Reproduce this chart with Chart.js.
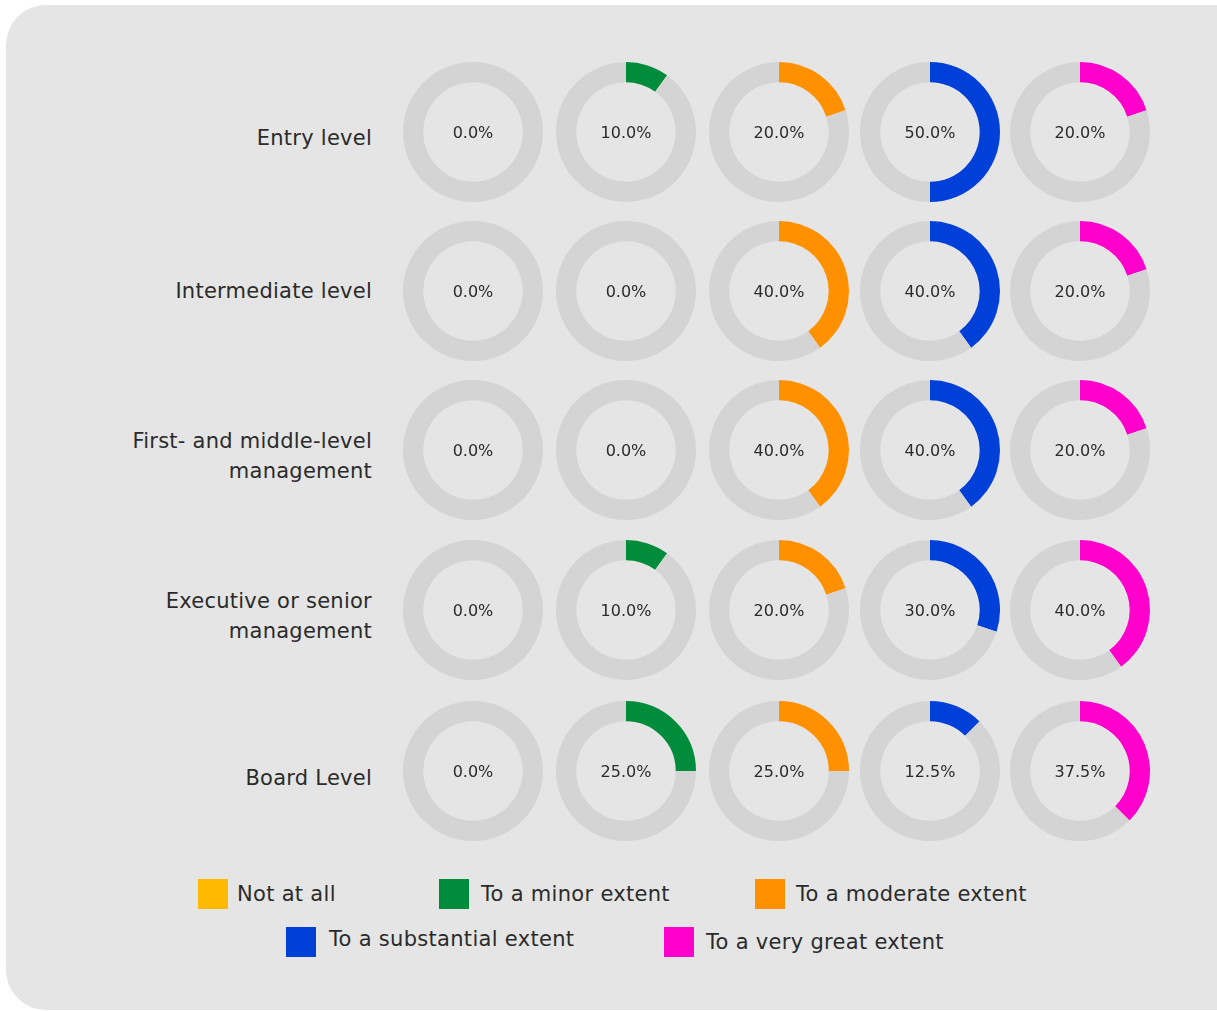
<!DOCTYPE html>
<html>
<head>
<meta charset="utf-8">
<script src="https://cdn.jsdelivr.net/npm/chart.js@4.4.1/dist/chart.umd.min.js"></script>
<style>
  body { margin: 0; background: #ffffff; overflow: hidden; font-family: "DejaVu Sans", Verdana, sans-serif; }
  #panel {
    position: absolute; left: 6px; top: 5px; width: 1260px; height: 1005px;
    background: #e5e5e5; border-radius: 40px;
  }
  .rowLabel {
    position: absolute; width: 360px; text-align: right;
    font-size: 21px; line-height: 30px; letter-spacing: 0.25px; color: #2b2b2b;
    transform: translateY(-50%);
  }
  .cell { position: absolute; width: 150px; height: 150px; }
  .box { position: absolute; width: 30px; height: 30px; }
  .legendText { position: absolute; height: 30px; line-height: 30px; font-size: 21px; letter-spacing: 0.3px; color: #2b2b2b; white-space: nowrap; }
</style>
</head>
<body>
<div id="panel"></div>
<script>
// ================================
// DATA
// ================================
const levels = [
  "Entry level",
  "Intermediate level",
  "First- and middle-level<br>management",
  "Executive or senior<br>management",
  "Board Level"
];
const extents = [
  "Not at all",
  "To a minor extent",
  "To a moderate extent",
  "To a substantial extent",
  "To a very great extent"
];
const extentColors = ["#ffb900", "#008c3a", "#ff9100", "#0040d8", "#ff00cc"];

// one array per level, values in %, in the order of `extents`
const entryLevel        = [0, 10, 20, 50, 20];
const intermediateLevel = [0, 0, 40, 40, 20];
const firstMiddleLevel  = [0, 0, 40, 40, 20];
const executiveLevel    = [0, 10, 20, 30, 40];
const boardLevel        = [0, 25, 25, 12.5, 37.5];
const shares = [entryLevel, intermediateLevel, firstMiddleLevel, executiveLevel, boardLevel];

// ================================
// LAYOUT (page coords)
// ================================
const colX = [473, 626, 779, 930, 1080];
const rowY = [132, 291, 450, 610, 771];
const labelY = [138, 291, 456, 616, 778];
const panel = document.getElementById("panel");
const OX = 6, OY = 5;

const centerText = {
  id: "centerText",
  afterDraw(chart) {
    const { ctx, chartArea } = chart;
    const v = chart.data.datasets[0].data[0];
    ctx.save();
    ctx.font = "16px 'DejaVu Sans'";
    ctx.fillStyle = "#2b2b2b";
    ctx.textAlign = "center";
    ctx.textBaseline = "middle";
    ctx.fillText(v.toFixed(1) + "%", (chartArea.left + chartArea.right) / 2, (chartArea.top + chartArea.bottom) / 2 + 1.5);
    ctx.restore();
  }
};

levels.forEach((lvl, r) => {
  const lab = document.createElement("div");
  lab.className = "rowLabel";
  lab.innerHTML = lvl;
  lab.style.left = (372 - 360 - OX) + "px";
  lab.style.top = (labelY[r] - OY) + "px";
  panel.appendChild(lab);

  extents.forEach((ext, c) => {
    const holder = document.createElement("div");
    holder.className = "cell";
    holder.style.left = (colX[c] - 75 - OX) + "px";
    holder.style.top = (rowY[r] - 75 - OY) + "px";
    const cv = document.createElement("canvas");
    cv.width = 150; cv.height = 150;
    holder.appendChild(cv);
    panel.appendChild(holder);

    const v = shares[r][c];
    new Chart(cv, {
      type: "doughnut",
      data: {
        labels: [ext, "Other"],
        datasets: [{
          data: [v, 100 - v],
          backgroundColor: [extentColors[c], "#d4d4d4"],
          borderWidth: 0
        }]
      },
      options: {
        responsive: false,
        animation: false,
        cutout: "71%",
        layout: { padding: 5 },
        plugins: { legend: { display: false }, tooltip: { enabled: false } }
      },
      plugins: [centerText]
    });
  });
});

// ================================
// LEGEND
// ================================
const legendBox = [[198, 879], [439, 879], [755, 879], [286, 927], [664, 927]];
const legendText = [[237, 879], [481, 879], [796, 879], [329, 924], [706, 927]];
extents.forEach((ext, i) => {
  const box = document.createElement("div");
  box.className = "box";
  box.style.left = (legendBox[i][0] - OX) + "px";
  box.style.top = (legendBox[i][1] - OY) + "px";
  box.style.background = extentColors[i];
  panel.appendChild(box);

  const txt = document.createElement("div");
  txt.className = "legendText";
  txt.style.left = (legendText[i][0] - OX) + "px";
  txt.style.top = (legendText[i][1] - OY) + "px";
  txt.textContent = ext;
  panel.appendChild(txt);
});
</script>
</body>
</html>
